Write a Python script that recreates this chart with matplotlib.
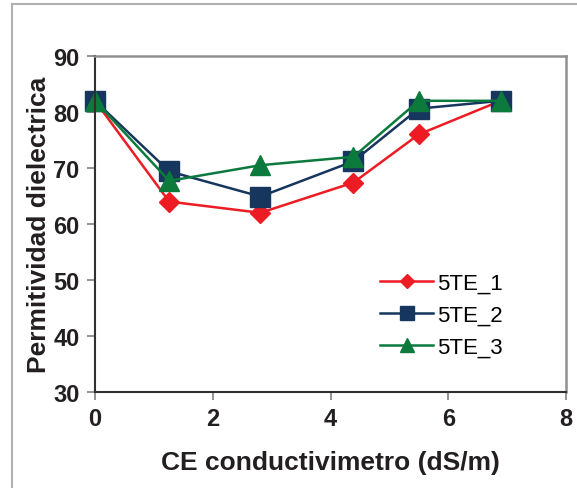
import matplotlib
matplotlib.use("Agg")
import matplotlib.pyplot as plt
from matplotlib.patches import Rectangle

plt.rcParams['font.family'] = ['Liberation Sans', 'DejaVu Sans']

# conductividad electrica (dS/m) y permitividad de cada sensor
ce = [0.0, 1.26, 2.81, 4.39, 5.50, 6.89]
te_1 = [82.0, 64.0, 62.0, 67.4, 76.0, 82.0]
te_2 = [82.0, 69.4, 64.9, 71.2, 80.6, 82.0]
te_3 = [82.0, 67.7, 70.5, 72.0, 82.0, 82.0]
labels = ['5TE_1', '5TE_2', '5TE_3']

fig = plt.figure(figsize=(5.77, 4.89), dpi=100)
# marco exterior del grafico
fig.patches.append(Rectangle((12 / 577, -0.1), 1.2, 1 - 5 / 489 + 0.1,
                             transform=fig.transFigure, fill=False,
                             edgecolor='#b0b0b0', linewidth=1.5))

ax = fig.add_axes([95 / 577, 1 - 393 / 489, (566 - 95) / 577, (393 - 57) / 489])

ax.plot(ce, te_1, color='#ed1c24', lw=1.8, marker='D', ms=10.5,
        mec='#ed1c24', label=labels[0], clip_on=False)
ax.plot(ce, te_2, color='#17365d', lw=1.8, marker='s', ms=15,
        mec='#17365d', label=labels[1], clip_on=False)
ax.plot(ce, te_3, color='#0b7a3c', lw=1.8, marker='^', ms=14.5,
        mec='#0b7a3c', label=labels[2], clip_on=False)

ax.set_xlim(0, 8)
ax.set_ylim(30, 90)
ax.set_xticks([0, 2, 4, 6, 8])
ax.set_yticks([30, 40, 50, 60, 70, 80, 90])

for side in ('left', 'bottom'):
    ax.spines[side].set_color('#303030')
    ax.spines[side].set_linewidth(1.5)
for side in ('top', 'right'):
    ax.spines[side].set_color('#909090')
    ax.spines[side].set_linewidth(1.8)

ax.tick_params(direction='out', length=6, width=1.2, color='#808080',
               labelsize=17, pad=5)
for t in ax.get_xticklabels() + ax.get_yticklabels():
    t.set_fontweight('bold')
    t.set_color('#231f20')

ax.set_xlabel('CE conductivimetro (dS/m)', fontsize=19, fontweight='bold',
              color='#231f20', labelpad=14)
ax.set_ylabel('Permitividad dielectrica', fontsize=19, fontweight='bold',
              color='#231f20', labelpad=2)

leg = ax.legend(loc='center left', bbox_to_anchor=(0.605, 0.229), frameon=False,
                fontsize=16, handlelength=2.4, handletextpad=0.15,
                labelspacing=0.5, borderaxespad=0, borderpad=0)
for h in leg.legend_handles:
    h.set_markersize(h.get_markersize() * 0.65)

fig.savefig('out.png', dpi=100)
